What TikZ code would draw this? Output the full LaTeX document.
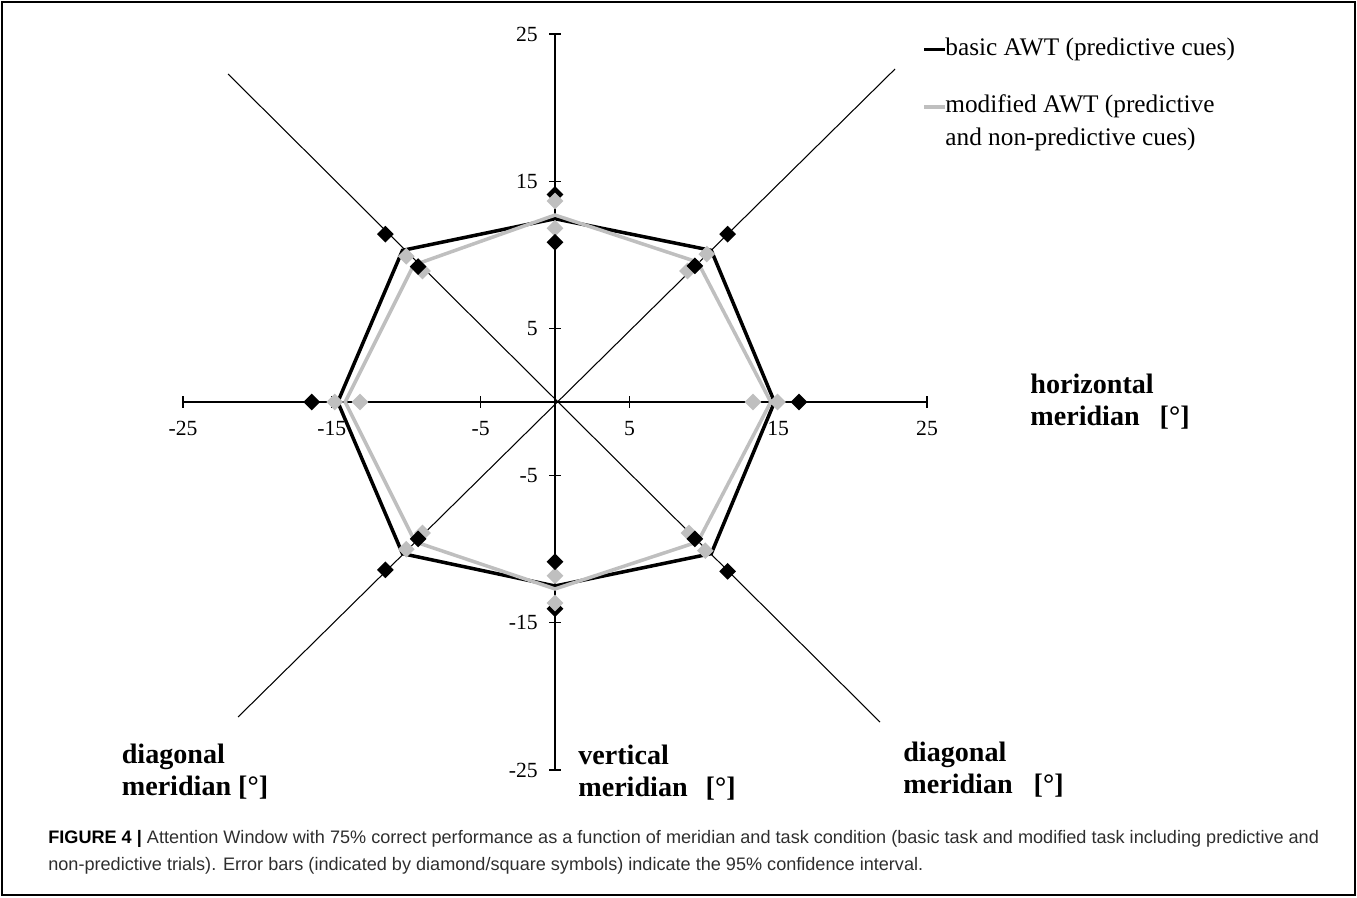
\documentclass[tikz,border=0pt]{standalone}
\usepackage{fontspec}
\setmainfont{Liberation Serif}
\setsansfont{Liberation Sans}
\usetikzlibrary{shapes.geometric}
\definecolor{awtgray}{HTML}{BFBFBF}
\definecolor{captxt}{HTML}{2E2E2E}

\begin{document}
\begin{tikzpicture}[
  ax/.style={line width=0.6pt},
  basic/.style={black, line width=2pt, line join=miter},
  modif/.style={awtgray, line width=2pt, line join=miter},
  dmd/.style={diamond, fill=#1, inner sep=0pt, minimum size=0.34cm},
  ticklbl/.style={font=\fontsize{12.3}{14}\selectfont, inner sep=0pt},
  lgd/.style={font=\fontsize{14.4}{18.7}\selectfont, inner sep=0pt, align=left},
  merid/.style={font=\fontsize{16}{17.8}\selectfont\bfseries, inner sep=0pt,
                align=left, anchor=base west},
]
\useasboundingbox (0,0) rectangle (27.14,17.94);
\draw[line width=0.6pt] (0.04,0.04) rectangle (27.10,17.90);

% ─── radar frame (data units, origin at the centre) ─────────────────────────
\begin{scope}[shift={(11.10,9.90)}, x=0.2976cm, y=0.2944cm]
\draw[ax] (-25,0) -- (25,0);
\draw[ax] (0,-25) -- (0,25);
\draw[ax] (-21.97,22.28) -- (21.84,-21.74);
\draw[ax] (22.85,22.62) -- (-21.30,-21.40);
\foreach \t [count=\i] in {-25,-15,...,25} {
  \draw[ax] (\t,-0.4) -- (\t,0.4);
  \draw[ax] (-0.4,\t) -- (0.4,\t);
  \node[ticklbl] (hx\i) at (\t,-1.77) {\t};
  \node[ticklbl, anchor=east] (vy\i) at (-1.14,\t) {\t};
}

% ─── the two windows ────────────────────────────────────────────────────────
\draw[basic] (0,12.45) -- (10.5,10.3) -- (14.75,0) -- (10.5,-10.3)
             -- (0,-12.5) -- (-10.25,-10.3) -- (-14.6,0) -- (-10.25,10.3) -- cycle;
\draw[modif] (0,12.7) -- (9.6,9.5) -- (14.5,0) -- (9.6,-9.5)
             -- (0,-12.7) -- (-9.4,-9.5) -- (-14.1,0) -- (-9.5,9.3) -- cycle;

% error bars: outer black ones on the vertical meridian sit under the grey
\foreach \p [count=\i] in {(0,14.1),(0,-14.05)}
  \node[dmd=black] (bv\i) at \p {};
\foreach \p [count=\i] in {(0,13.65),(0,11.8),(-10.0,9.9),(-8.9,8.9),
    (-14.8,0),(-13.1,0),(-8.9,-8.9),(-10.0,-10.0),(0,-11.8),(0,-13.65),
    (9.0,-8.9),(10.1,-10.1),(13.3,0),(14.95,0),(8.9,8.9),(10.2,10.05)}
  \node[dmd=awtgray] (gy\i) at \p {};
\foreach \p [count=\i] in {(0,10.85),(-11.4,11.4),(-9.2,9.2),(-16.35,0),
    (-11.4,-11.4),(-9.2,-9.3),(0,-10.85),(11.6,-11.5),(9.4,-9.3),
    (16.4,0),(11.6,11.4),(9.4,9.25)}
  \node[dmd=black] (bk\i) at \p {};
\end{scope}

% ─── legend ─────────────────────────────────────────────────────────────────
\coordinate (lb0) at (18.48,16.95);
\coordinate (lm0) at (18.48,15.80);
\node[lgd, anchor=west] (lbasic) at (18.90,16.95) {basic AWT (predictive cues)};
\node[lgd, anchor=north west] (lmod) at (18.90,16.05)
      {modified AWT (predictive\\and non-predictive cues)};
\draw[basic, line width=2.2pt] (lb0) -- (lbasic.west);
\draw[modif, line width=2.2pt] (lm0) -- (lm0 -| lmod.west);

% ─── meridian names (base = last line) ──────────────────────────────────────
\node[merid] (mhor) at (20.60,9.44) {horizontal\\meridian\hspace{0.4cm}[°]};
\node[merid] (mdl)  at (2.43,2.04)  {diagonal\\meridian [°]};
\node[merid] (mver) at (11.56,2.02) {vertical\\meridian\hspace{0.36cm}[°]};
\node[merid] (mdr)  at (18.06,2.08) {diagonal\\meridian\hspace{0.42cm}[°]};

% ─── caption ────────────────────────────────────────────────────────────────
\node[font=\sffamily\fontsize{10.3}{15.3}\selectfont, text=captxt, inner sep=0pt,
      align=left, anchor=base west] (cap) at (0.96,0.54)
  {\textbf{\color{black}FIGURE 4 |} Attention Window with 75\% correct performance
   as a function of meridian and task condition (basic task and modified task
   including predictive and\\non-predictive trials). Error bars (indicated by
   diamond/square symbols) indicate the 95\% confidence interval.};
\end{tikzpicture}
\end{document}
